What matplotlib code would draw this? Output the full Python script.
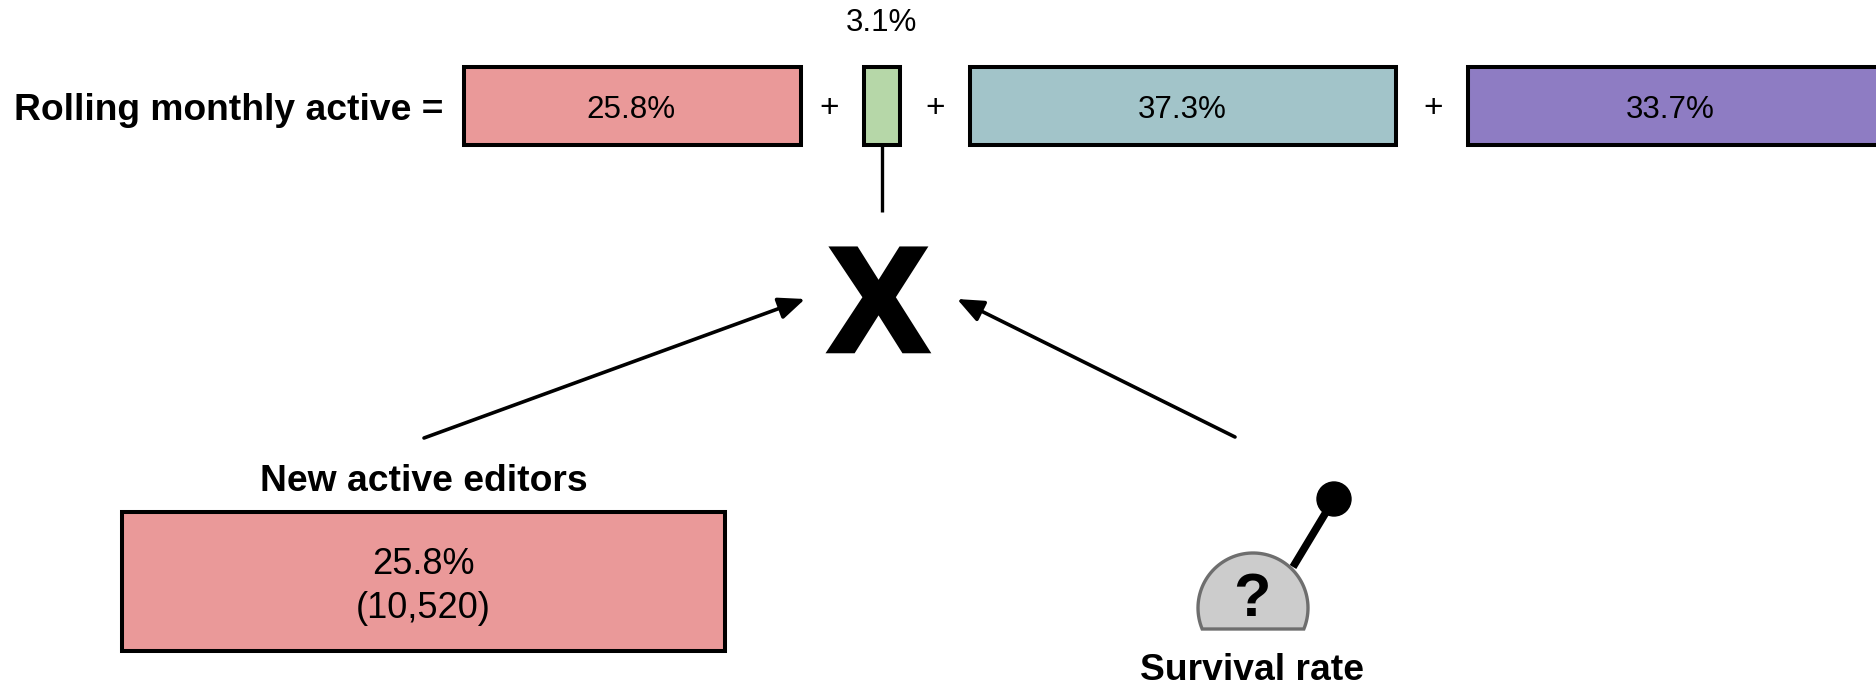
import matplotlib
matplotlib.use("Agg")
import matplotlib.pyplot as plt
import matplotlib.patheffects as pe
from matplotlib.patches import Polygon, Circle
import numpy as np

plt.rcParams['font.family'] = ['Liberation Sans', 'DejaVu Sans']

# Datos del grafico
shares = [25.8, 3.1, 37.3, 33.7]
share_colors = ['#ea9999', '#b6d7a8', '#a2c4c9', '#8e7cc3']
new_editors_share = 25.8
new_editors_count = 10520
main_label = 'Rolling monthly active ='
new_label = 'New active editors'
survival_label = 'Survival rate'

# Layout en pixeles de la figura
W, H = 1876, 687
bar_left = [463.5, 864, 970, 1467.5]
bar_right = [801, 899.5, 1396, 1900]
label_x = [631, 881, 1182.5, 1670.5]
plus_x = [829, 935.5, 1433]
EDGE = 2.9

fig = plt.figure(figsize=(W / 100, H / 100), dpi=100)
ax = fig.add_axes([0, 0, 1, 1])
ax.set_xlim(0, W)
ax.set_ylim(H, 0)
ax.axis('off')

# Barras de arriba
for i in range(len(shares)):
    ax.barh(106, bar_right[i] - bar_left[i], height=78, left=bar_left[i],
            color=share_colors[i], edgecolor='black', linewidth=EDGE)
    # la etiqueta de 3.1% va encima de su barra
    y_label = 23 if i == 1 else 109.5
    ax.text(label_x[i], y_label, f'{shares[i]}%', fontsize=22.6, ha='center', va='center')

for x in plus_x:
    ax.text(x, 108, '+', fontsize=24, ha='center', va='center')

ax.text(14, 111, main_label, fontsize=26.8, fontweight='bold', ha='left', va='center')

# Linea vertical y la X
ax.plot([881.5, 881.5], [146, 212], color='black', lw=2.4, solid_capstyle='butt')
ax.text(878.5, 297.5, 'X', fontsize=106, fontweight='bold', ha='center', va='center_baseline',
        path_effects=[pe.withStroke(linewidth=4, foreground='black', joinstyle='miter')])

# Flechas
arrow = dict(arrowstyle='-|>,head_length=1,head_width=0.42', color='black', lw=2.6,
             shrinkA=0, shrinkB=0, mutation_scale=16)
ax.annotate('', xy=(805, 299), xytext=(424, 438), arrowprops=arrow)
ax.annotate('', xy=(957, 299), xytext=(1235, 437), arrowprops=arrow)

# Caja de nuevos editores
ax.barh(581.5, 603, height=139, left=122, color=share_colors[0],
        edgecolor='black', linewidth=EDGE)
ax.text(424, 481.5, new_label, fontsize=26.8, fontweight='bold', ha='center', va='center')
ax.text(423, 565, f'{new_editors_share}%', fontsize=26, ha='center', va='center')
ax.text(423, 609, f'({new_editors_count:,})', fontsize=26, ha='center', va='center')

# Palanca de supervivencia
ax.plot([1293, 1334], [567, 499], color='black', lw=5.5, solid_capstyle='butt', zorder=2)
ax.add_patch(Circle((1334, 499), 17, color='black', zorder=3))
cx, cy, r = 1253, 608, 55
a0 = np.arcsin(21 / r)
ang = np.linspace(-a0, np.pi + a0, 80)
puntos = np.column_stack([cx + r * np.cos(ang), cy - r * np.sin(ang)])
ax.add_patch(Polygon(puntos, closed=True, facecolor='#cccccc', edgecolor='#6e6e6e',
                     linewidth=2.4, zorder=4))
ax.text(1252, 600, '?', fontsize=44, fontweight='bold', ha='center', va='center', zorder=5)
ax.text(1252, 680.5, survival_label, fontsize=26.8, fontweight='bold', ha='center', va='baseline')

fig.savefig('out.png', dpi=100)
